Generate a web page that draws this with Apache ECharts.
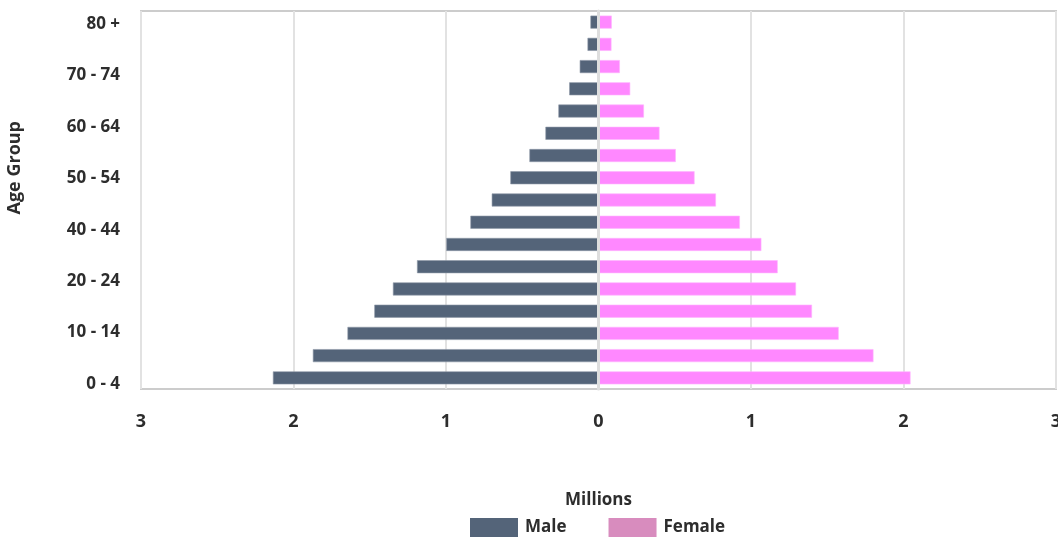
<!DOCTYPE html>
<html>
<head>
<meta charset="utf-8">
<script src="https://cdn.jsdelivr.net/npm/echarts@6/dist/echarts.min.js"></script>
<style>
  html, body { margin: 0; padding: 0; background: #fff; }
  #chart { width: 1058px; height: 537px; }
</style>
</head>
<body>
<div id="chart"></div>
<script>
// Age groups, youngest first (drawn bottom to top)
const ageGroups = ['0 - 4', '5 - 9', '10 - 14', '15 - 19', '20 - 24', '25 - 29', '30 - 34', '35 - 39',
  '40 - 44', '45 - 49', '50 - 54', '55 - 59', '60 - 64', '65 - 69', '70 - 74', '75 - 79', '80 +'];

// Population in millions
const maleValues = [2.135, 1.873, 1.646, 1.470, 1.348, 1.190, 0.998, 0.840,
  0.700, 0.578, 0.453, 0.348, 0.263, 0.192, 0.123, 0.072, 0.053];
const femaleValues = [2.046, 1.803, 1.575, 1.400, 1.295, 1.175, 1.068, 0.927,
  0.770, 0.630, 0.507, 0.400, 0.298, 0.208, 0.140, 0.085, 0.087];

// Labels printed along the vertical axis
const ageTickLabels = ['0 - 4', '10 - 14', '20 - 24', '40 - 44', '50 - 54', '60 - 64', '70 - 74', '80 +'];

const FONT = '"Open Sans", sans-serif';
const TEXT = '#2d2d2d';
const MALE = '#546479';
const FEMALE = '#ff88ff';
const FEMALE_KEY = '#d88cbe';

const gridTop = 11, gridBottom = 148, gridLeft = 141, gridRight = 2;

const chart = echarts.init(document.getElementById('chart'), null, { renderer: 'canvas' });

chart.setOption({
  animation: false,
  backgroundColor: '#ffffff',
  textStyle: { fontFamily: FONT },
  grid: [
    { left: gridLeft, right: gridRight, top: gridTop, bottom: gridBottom,
      outerBoundsMode: 'none', containLabel: false,
      show: true, borderColor: '#cccccc', borderWidth: 2, backgroundColor: 'transparent' },
    // label strip for the age-group captions
    { left: gridLeft, right: gridRight, top: 24, bottom: 153,
      outerBoundsMode: 'none', containLabel: false, show: false }
  ],
  xAxis: [
    {
      gridIndex: 0,
      type: 'value',
      min: -3, max: 3, interval: 1,
      name: 'Millions',
      nameLocation: 'middle',
      nameGap: 103,
      nameTextStyle: { fontFamily: FONT, fontWeight: 'bold', fontSize: 17, color: TEXT },
      axisLine: { show: false },
      axisTick: { show: false },
      axisLabel: {
        margin: 24,
        fontFamily: FONT, fontWeight: 'bold', fontSize: 18, color: TEXT,
        formatter: v => String(Math.abs(v))
      },
      splitLine: { show: true, lineStyle: { color: '#e2e2e2', width: 2 } }
    },
    { gridIndex: 1, type: 'value', min: -3, max: 3, show: false }
  ],
  yAxis: [
    {
      gridIndex: 0,
      type: 'category',
      data: ageGroups,
      z: 5,
      axisLine: { show: true, onZero: true, lineStyle: { color: '#dedede', width: 3 } },
      axisTick: { show: false },
      axisLabel: { show: false },
      splitLine: { show: false }
    },
    {
      gridIndex: 1,
      type: 'category',
      data: ageTickLabels,
      boundaryGap: false,
      axisLine: { show: false },
      axisTick: { show: false },
      axisLabel: {
        margin: 21,
        fontFamily: FONT, fontWeight: 'bold', fontSize: 17, color: TEXT
      },
      splitLine: { show: false }
    }
  ],
  legend: {
    left: 470,
    bottom: 0,
    padding: 0,
    itemWidth: 48,
    itemHeight: 19,
    itemGap: 42,
    icon: 'rect',
    itemStyle: { borderWidth: 0 },
    textStyle: { fontFamily: FONT, fontWeight: 'bold', fontSize: 17, color: TEXT, padding: [0, 0, 0, 2] },
    data: [
      { name: 'Male', itemStyle: { color: MALE, borderWidth: 0 } },
      { name: 'Female', itemStyle: { color: FEMALE_KEY, borderWidth: 0 } }
    ]
  },
  graphic: [
    {
      type: 'text',
      left: 6,
      top: 121,
      rotation: Math.PI / 2,
      style: {
        text: 'Age Group',
        font: 'bold 18px "Open Sans", sans-serif',
        fill: TEXT
      }
    }
  ],
  series: [
    {
      name: 'Male',
      type: 'bar',
      xAxisIndex: 0, yAxisIndex: 0,
      barWidth: 13,
      barGap: '-100%',
      itemStyle: { color: MALE, borderColor: '#8e99a8', borderWidth: 0.6 },
      data: maleValues.map(v => -v)
    },
    {
      name: 'Female',
      type: 'bar',
      xAxisIndex: 0, yAxisIndex: 0,
      barWidth: 13,
      barGap: '-100%',
      itemStyle: { color: FEMALE, borderColor: '#ffb4ff', borderWidth: 0.6 },
      data: femaleValues
    }
  ]
});
</script>
</body>
</html>
